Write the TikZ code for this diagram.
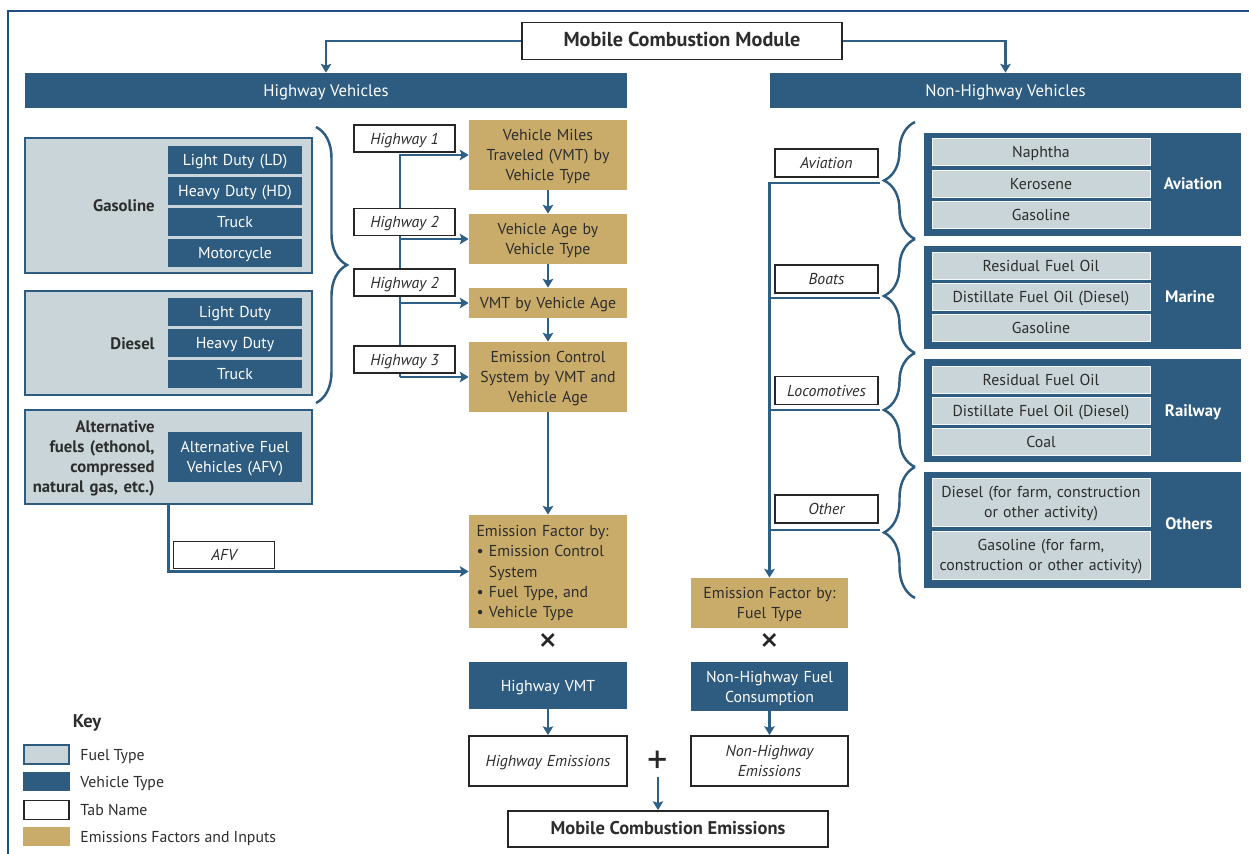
\documentclass[tikz,border=0pt]{standalone}
\usepackage{fontspec}
\setmainfont{PT Sans}
\usetikzlibrary{arrows.meta, decorations.pathreplacing}
\definecolor{vehblue}{RGB}{46,92,128}
\definecolor{fuelgray}{RGB}{201,213,217}
\definecolor{efgold}{RGB}{201,172,106}
\definecolor{linkblue}{RGB}{46,96,135}
\definecolor{framenavy}{RGB}{31,78,133}
\definecolor{textgray}{RGB}{45,45,45}

\begin{document}
\begin{tikzpicture}[x=0.02cm, y=-0.02cm,
    every node/.style={font=\fontsize{9}{11.5}\selectfont, text=textgray, inner sep=0pt, align=center,
        execute at begin node={\rule[-2.2pt]{0pt}{10.8pt}}, execute at end node={\rule[-2.2pt]{0pt}{2.2pt}}},
    nostrut/.style={execute at begin node={}, execute at end node={}},
    bar/.style={fill=vehblue, text=white, minimum height=0.7cm, font=\fontsize{9.5}{11.5}\selectfont},
    fuelbox/.style={draw=vehblue, line width=1.1pt, fill=fuelgray, nostrut},
    vehbox/.style={fill=vehblue, text=white, text width=2.68cm, minimum height=0.56cm},
    itembox/.style={fill=fuelgray, draw=white!80!fuelgray, line width=0.4pt, text width=4.36cm, minimum height=0.54cm},
    groupbox/.style={fill=vehblue, minimum width=6.34cm, minimum height=2.06cm, nostrut},
    grouplabel/.style={font=\bfseries\fontsize{9.5}{11.5}\selectfont},
    efbox/.style={fill=efgold, text width=3.16cm},
    tabbox/.style={draw=black!85, fill=white, line width=1.1pt, font=\itshape\fontsize{9}{11.5}\selectfont},
    opsign/.style={nostrut, text=black!85},
    brace/.style={draw=vehblue, line width=1.4pt, decorate, decoration={brace, amplitude=0.62cm}}]
\useasboundingbox (0,0) rectangle (1249,854);
\draw[framenavy, line width=1.1pt] (8,854) -- (8,11) -- (1249,11);

\begin{scope}
    \node[draw=black!85, fill=white, line width=1.1pt, minimum width=6.4cm, minimum height=0.74cm,
          font=\bfseries\fontsize{11.5}{13}\selectfont] (mcm) at (682,41) {Mobile Combustion Module};
    \node[bar, minimum width=12.04cm] (hv) at (326,90.5) {Highway Vehicles};
    \node[bar, minimum width=9.42cm] (nhv) at (1005.5,90.5) {Non-Highway Vehicles};

    % highway fuel types
    \node[fuelbox, minimum width=5.74cm, minimum height=2.7cm] (gas) at (168.5,205.5) {};
    \node[grouplabel, anchor=east] (gasl) at (155,206) {Gasoline};
    \node[vehbox] (gld) at (235,160) {Light Duty (LD)};
    \node[vehbox] (ghd) at (235,191) {Heavy Duty (HD)};
    \node[vehbox] (gtr) at (235,222) {Truck};
    \node[vehbox] (gmc) at (235,253) {Motorcycle};

    \node[fuelbox, minimum width=5.74cm, minimum height=2.08cm] (die) at (168.5,343) {};
    \node[grouplabel, anchor=east] (diel) at (155,344) {Diesel};
    \node[vehbox] (dld) at (235,312) {Light Duty};
    \node[vehbox] (dhd) at (235,343) {Heavy Duty};
    \node[vehbox] (dtr) at (235,374) {Truck};

    \node[fuelbox, minimum width=5.74cm, minimum height=1.88cm] (alt) at (168.5,457) {};
    \node[grouplabel, anchor=east, align=right, text width=2.6cm] (altl) at (155,457) {Alternative\\fuels (ethonol,\\compressed\\natural gas, etc.)};
    \node[vehbox, minimum height=1cm] (afvv) at (235,457) {Alternative Fuel\\Vehicles (AFV)};

    % highway factors
    \node[efbox, minimum height=1.4cm] (vmt) at (548,155) {Vehicle Miles\\Traveled (VMT) by\\Vehicle Type};
    \node[efbox, minimum height=1cm] (age) at (548,239) {Vehicle Age by\\Vehicle Type};
    \node[efbox, minimum height=0.6cm] (vmtage) at (548,303) {VMT by Vehicle Age};
    \node[efbox, minimum height=1.4cm] (ecs) at (548,377) {Emission Control\\System by VMT and\\Vehicle Age};
    \node[efbox, minimum height=2.26cm, align=left, text width=2.86cm, inner xsep=0.15cm] (efh) at (548,571.5)
        {Emission Factor by:\\\textbullet\ Emission Control\\\phantom{\textbullet\ }System\\\textbullet\ Fuel Type, and\\\textbullet\ Vehicle Type};
    \node[opsign, font=\fontsize{22}{22}\selectfont] (hx) at (548,645.5) {×};
    \node[vehbox, text width=3.16cm, minimum height=0.94cm] (hvmt) at (548,685.5) {Highway VMT};

    % non-highway
    \node[efbox, text width=3.14cm, minimum height=1cm] (eff) at (769.5,603) {Emission Factor by:\\Fuel Type};
    \node[opsign, font=\fontsize{22}{22}\selectfont] (nx) at (769.5,645.5) {×};
    \node[vehbox, text width=3.14cm, minimum height=0.98cm] (nhfc) at (769.5,686.5) {Non-Highway Fuel\\Consumption};

    \node[groupbox] (avg) at (1082.5,184.5) {};
    \node[itembox] (nap) at (1041,152) {Naphtha};
    \node[itembox] (ker) at (1041,184) {Kerosene};
    \node[itembox] (avgas) at (1041,215) {Gasoline};
    \node[grouplabel, text=white] (avl) at (1193,184) {Aviation};

    \node[groupbox] (mar) at (1082.5,297.5) {};
    \node[itembox] (mres) at (1041,266) {Residual Fuel Oil};
    \node[itembox] (mdis) at (1041,297) {Distillate Fuel Oil (Diesel)};
    \node[itembox] (mgas) at (1041,328) {Gasoline};
    \node[grouplabel, text=white] (marl) at (1190,297) {Marine};

    \node[groupbox] (rail) at (1082.5,410.5) {};
    \node[itembox] (rres) at (1041,380) {Residual Fuel Oil};
    \node[itembox] (rdis) at (1041,411) {Distillate Fuel Oil (Diesel)};
    \node[itembox] (rcoal) at (1041,442) {Coal};
    \node[grouplabel, text=white] (raill) at (1193,411) {Railway};

    \node[groupbox, minimum height=2.32cm] (oth) at (1082.5,530) {};
    \node[itembox, minimum height=0.96cm] (odie) at (1041,502) {Diesel (for farm, construction\\or other activity)};
    \node[itembox, minimum height=0.96cm] (ogas) at (1041,555) {Gasoline (for farm,\\construction or other activity)};
    \node[grouplabel, text=white] (othl) at (1189,524) {Others};

    % emissions
    \node[tabbox, text width=3.16cm, minimum height=1cm] (hem) at (548,761) {Highway Emissions};
    \node[tabbox, text width=3.14cm, minimum height=1cm] (nhem) at (769.5,761) {Non-Highway\\Emissions};
    \node[opsign, font=\fontsize{23}{23}\selectfont] (plus) at (658,764) {+};
    \node[draw=black!85, fill=white, line width=1.1pt, minimum width=6.4cm, minimum height=0.72cm,
          font=\bfseries\fontsize{10.5}{12}\selectfont] (mce) at (668,829) {Mobile Combustion Emissions};

    % key
    \node[font=\bfseries\fontsize{10.5}{12}\selectfont] (key) at (87,722) {Key};
    \node[fuelbox, minimum width=0.9cm, minimum height=0.34cm] (kfuel) at (46.5,754.5) {};
    \node[anchor=west] (kfuell) at (80,754.5) {Fuel Type};
    \node[nostrut, fill=vehblue, minimum width=0.94cm, minimum height=0.38cm] (kveh) at (46.5,782) {};
    \node[anchor=west] (kvehl) at (80,782) {Vehicle Type};
    \node[nostrut, draw=black!85, line width=1.1pt, minimum width=0.9cm, minimum height=0.34cm] (ktab) at (46.5,810) {};
    \node[anchor=west] (ktabl) at (80,810) {Tab Name};
    \node[nostrut, fill=efgold, minimum width=0.94cm, minimum height=0.38cm] (kef) at (46.5,837) {};
    \node[anchor=west] (kefl) at (80,837) {Emissions Factors and Inputs};

    \coordinate (hwtrunk) at (400,158);
    \coordinate (avtip) at (880,183);
    \coordinate (botip) at (880,298);
    \coordinate (lotip) at (880,410);
    \coordinate (ottip) at (880,530);
\end{scope}

\begin{scope}[>={Stealth[length=5pt, width=6pt, inset=1pt]}, line width=1.5pt, draw=linkblue,
              every edge/.style={draw=linkblue, line width=1.5pt}]
    \draw[->] (mcm.west) -| (hv.north);
    \draw[->] (mcm.east) -| (nhv.north);

    \draw[brace] (316,127) -- (316,403);
    \draw[brace] (915,239) -- (915,122);
    \draw[brace] (915,353) -- (915,239);
    \draw[brace] (915,467) -- (915,353);
    \draw[brace] (915,598) -- (915,467);

    \draw[->] (ecs.west -| hwtrunk) |- (vmt.west);
    \path [->] (ecs.west -| hwtrunk) edge (ecs.west);
    \path [->] (age.west -| hwtrunk) edge (age.west);
    \path [->] (vmtage.west -| hwtrunk) edge (vmtage.west);

    \path [->] (vmt) edge (age);
    \path [->] (age) edge (vmtage);
    \path [->] (vmtage) edge (ecs);
    \path [->] (ecs) edge (efh);
    \draw[->] (alt.south) |- (efh.west);
    \path [->] (hvmt) edge (hem);

    \draw[->] (avtip) -| (eff.north);
    \path [-] (botip) edge (botip -| eff.north);
    \path [-] (lotip) edge (lotip -| eff.north);
    \path [-] (ottip) edge (ottip -| eff.north);
    \path [->] (nhfc) edge (nhem);
    \path [->] (plus.south) edge (plus.south |- mce.north);
\end{scope}

\begin{scope}
    \node[tabbox, minimum width=2.02cm, minimum height=0.54cm] (hw1) at (404.5,138.5) {Highway 1};
    \node[tabbox, minimum width=2.02cm, minimum height=0.54cm] (hw2a) at (404.5,222) {Highway 2};
    \node[tabbox, minimum width=2.02cm, minimum height=0.54cm] (hw2b) at (404.5,282.5) {Highway 2};
    \node[tabbox, minimum width=2.02cm, minimum height=0.54cm] (hw3) at (404.5,359.5) {Highway 3};
    \node[tabbox, minimum width=2.02cm, minimum height=0.54cm] (afv) at (224,555) {AFV};
    \node[tabbox, minimum width=2.06cm, minimum height=0.56cm] (tav) at (826.5,163) {Aviation};
    \node[tabbox, minimum width=2.06cm, minimum height=0.56cm] (tbo) at (826.5,279) {Boats};
    \node[tabbox, minimum width=2.06cm, minimum height=0.56cm] (tlo) at (826.5,390.5) {Locomotives};
    \node[tabbox, minimum width=2.06cm, minimum height=0.56cm] (tot) at (826.5,509) {Other};
\end{scope}
\end{tikzpicture}
\end{document}
